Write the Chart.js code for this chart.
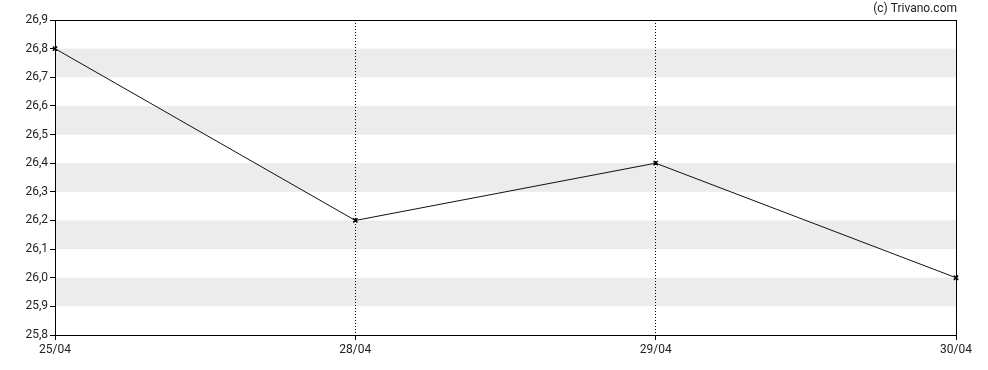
<!DOCTYPE html>
<html>
<head>
<meta charset="utf-8">
<script src="https://cdn.jsdelivr.net/npm/chart.js@4/dist/chart.umd.min.js"></script>
<style>
  html, body { margin: 0; padding: 0; background: #fff; }
  #wrap { position: relative; width: 988px; height: 370px; }
</style>
</head>
<body>
<div id="wrap"><canvas id="chart"></canvas></div>
<script>
const dates = ['25/04', '28/04', '29/04', '30/04'];
const prices = [26.8, 26.2, 26.4, 26.0];
const yTicks = [25.8, 25.9, 26.0, 26.1, 26.2, 26.3, 26.4, 26.5, 26.6, 26.7, 26.8, 26.9];
const bands = [[25.9, 26.0], [26.1, 26.2], [26.3, 26.4], [26.5, 26.6], [26.7, 26.8]];
const credit = '(c) Trivano.com';

const fontFamily = 'Roboto, Arial, sans-serif';

// grey horizontal stripes (under the grid) + frame + credit text
const decor = {
  id: 'decor',
  beforeDraw(chart) {
    const { ctx, chartArea } = chart;
    const y = chart.scales.y;
    ctx.save();
    ctx.fillStyle = '#ececec';
    bands.forEach(([lo, hi]) => {
      const top = y.getPixelForValue(hi);
      const bottom = y.getPixelForValue(lo);
      ctx.fillRect(chartArea.left, top, chartArea.right - chartArea.left, bottom - top);
    });
    ctx.restore();
  },
  afterDraw(chart) {
    const { ctx, chartArea } = chart;
    ctx.save();
    ctx.strokeStyle = '#000';
    ctx.lineWidth = 1;
    ctx.strokeRect(chartArea.left + 0.5, chartArea.top + 0.5,
      chartArea.right - chartArea.left, chartArea.bottom - chartArea.top);
    ctx.fillStyle = '#222';
    ctx.font = '12px ' + fontFamily;
    ctx.textAlign = 'right';
    ctx.textBaseline = 'middle';
    ctx.fillText(credit, chartArea.right + 1, 9);
    ctx.restore();
  }
};

new Chart(document.getElementById('chart'), {
  type: 'line',
  data: {
    labels: dates,
    datasets: [{
      data: prices,
      borderColor: '#111',
      borderWidth: 1,
      pointStyle: 'crossRot',
      pointRadius: 3,
      pointBorderColor: '#000',
      pointBorderWidth: 1.5,
      tension: 0,
      fill: false
    }]
  },
  options: {
    responsive: true,
    maintainAspectRatio: false,
    animation: false,
    layout: { padding: { top: 20, right: 32, bottom: 0, left: 0 } },
    plugins: {
      legend: { display: false },
      tooltip: { enabled: false }
    },
    scales: {
      x: {
        type: 'category',
        offset: false,
        afterFit(scale) { scale.height = 35; },
        grid: {
          display: true,
          drawOnChartArea: true,
          color: (c) => (c.index === 1 || c.index === 2) ? '#000' : 'rgba(0,0,0,0)',
          lineWidth: 1,
          tickLength: 5,
          tickColor: '#000',
          tickBorderDash: []
        },
        border: { display: true, color: '#000', dash: [1, 2] },
        ticks: {
          color: '#222',
          font: { family: fontFamily, size: 12 },
          padding: 3,
          maxRotation: 0,
          autoSkip: false
        }
      },
      y: {
        min: 25.8,
        max: 26.9,
        afterFit(scale) { scale.width = 55; },
        afterBuildTicks(scale) { scale.ticks = yTicks.map(v => ({ value: v })); },
        grid: {
          display: true,
          drawOnChartArea: false,
          tickLength: 5,
          tickColor: '#000'
        },
        border: { display: true, color: '#000' },
        ticks: {
          color: '#222',
          font: { family: fontFamily, size: 12 },
          padding: 2,
          callback: (v) => Number(v).toFixed(1).replace('.', ',')
        }
      }
    }
  },
  plugins: [decor]
});
</script>
</body>
</html>
